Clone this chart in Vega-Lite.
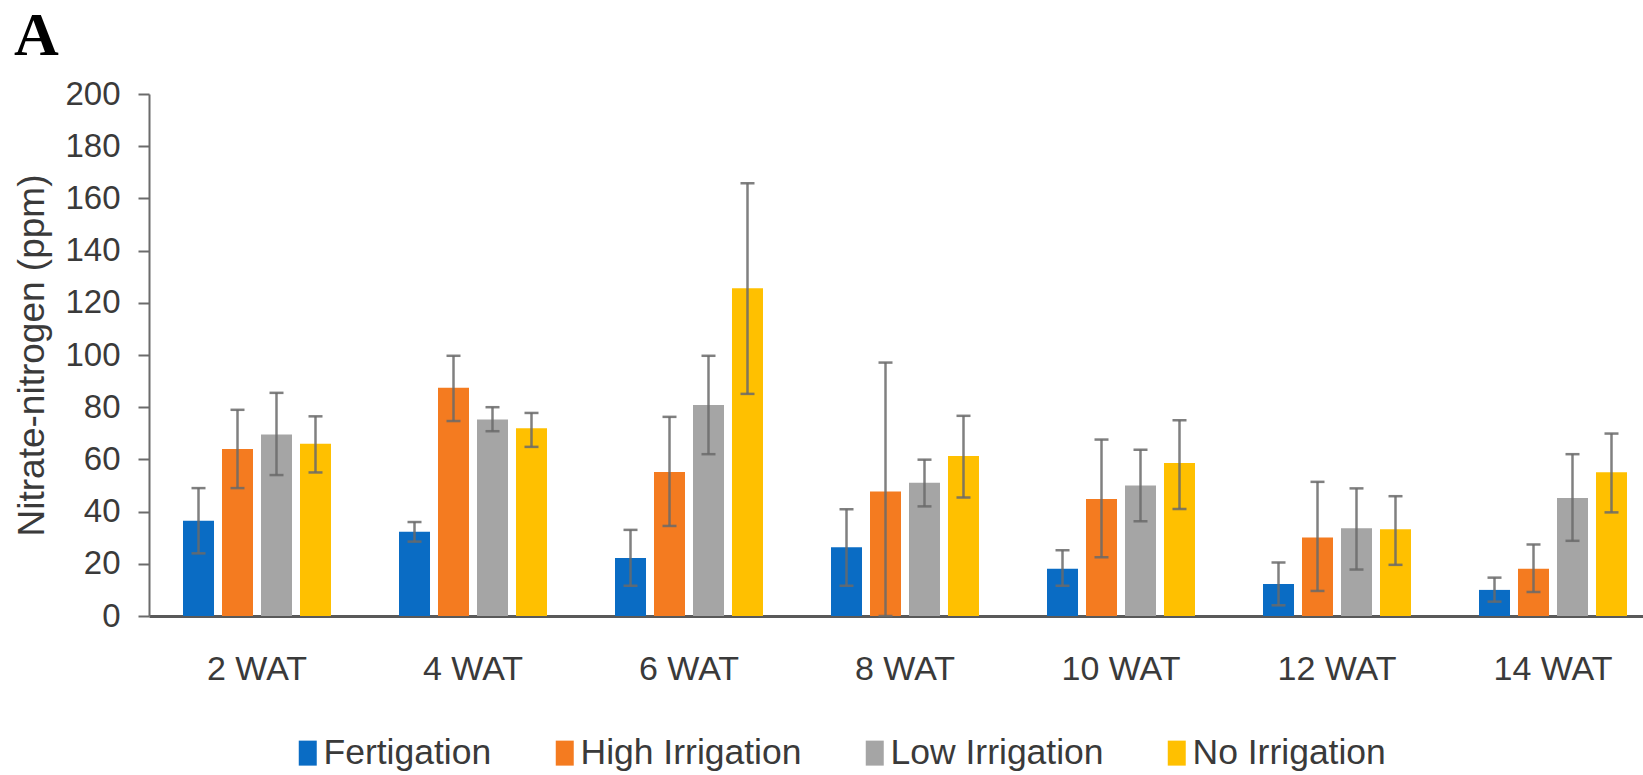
{
  "$schema": "https://vega.github.io/schema/vega-lite/v6.json",
  "autosize": "none",
  "padding": {"left": 149, "top": 94, "right": 0, "bottom": 159},
  "width": 1494,
  "height": 522,
  "background": "white",
  "title": {
    "text": "A",
    "anchor": "start",
    "orient": "top",
    "offset": 10,
    "font": "Liberation Serif",
    "fontSize": 62,
    "fontWeight": "bold",
    "color": "#000000"
  },
  "data": {
    "values": [
      {"week": "2 WAT", "treatment": "Fertigation", "value": 36.5, "lo": 24, "hi": 49},
      {"week": "2 WAT", "treatment": "High Irrigation", "value": 64, "lo": 49, "hi": 79},
      {"week": "2 WAT", "treatment": "Low Irrigation", "value": 69.5, "lo": 54, "hi": 85.5},
      {"week": "2 WAT", "treatment": "No Irrigation", "value": 66, "lo": 55, "hi": 76.5},
      {"week": "4 WAT", "treatment": "Fertigation", "value": 32.3, "lo": 28.5, "hi": 36},
      {"week": "4 WAT", "treatment": "High Irrigation", "value": 87.5, "lo": 74.7, "hi": 99.7},
      {"week": "4 WAT", "treatment": "Low Irrigation", "value": 75.3, "lo": 70.8, "hi": 80},
      {"week": "4 WAT", "treatment": "No Irrigation", "value": 71.9, "lo": 64.8, "hi": 77.8},
      {"week": "6 WAT", "treatment": "Fertigation", "value": 22.2, "lo": 11.6, "hi": 33},
      {"week": "6 WAT", "treatment": "High Irrigation", "value": 55.2, "lo": 34.5, "hi": 76.3},
      {"week": "6 WAT", "treatment": "Low Irrigation", "value": 80.8, "lo": 62, "hi": 99.7},
      {"week": "6 WAT", "treatment": "No Irrigation", "value": 125.6, "lo": 85.1, "hi": 165.8},
      {"week": "8 WAT", "treatment": "Fertigation", "value": 26.3, "lo": 11.6, "hi": 40.9},
      {"week": "8 WAT", "treatment": "High Irrigation", "value": 47.7, "lo": 0, "hi": 97.1},
      {"week": "8 WAT", "treatment": "Low Irrigation", "value": 51.1, "lo": 42, "hi": 59.9},
      {"week": "8 WAT", "treatment": "No Irrigation", "value": 61.3, "lo": 45.4, "hi": 76.7},
      {"week": "10 WAT", "treatment": "Fertigation", "value": 18.1, "lo": 11.6, "hi": 25.2},
      {"week": "10 WAT", "treatment": "High Irrigation", "value": 44.8, "lo": 22.5, "hi": 67.6},
      {"week": "10 WAT", "treatment": "Low Irrigation", "value": 50, "lo": 36.3, "hi": 63.7},
      {"week": "10 WAT", "treatment": "No Irrigation", "value": 58.6, "lo": 41, "hi": 75},
      {"week": "12 WAT", "treatment": "Fertigation", "value": 12.3, "lo": 4.1, "hi": 20.5},
      {"week": "12 WAT", "treatment": "High Irrigation", "value": 30.1, "lo": 9.6, "hi": 51.4},
      {"week": "12 WAT", "treatment": "Low Irrigation", "value": 33.6, "lo": 17.8, "hi": 48.9},
      {"week": "12 WAT", "treatment": "No Irrigation", "value": 33.2, "lo": 19.6, "hi": 45.9},
      {"week": "14 WAT", "treatment": "Fertigation", "value": 10, "lo": 5.5, "hi": 14.7},
      {"week": "14 WAT", "treatment": "High Irrigation", "value": 18.1, "lo": 9.2, "hi": 27.4},
      {"week": "14 WAT", "treatment": "Low Irrigation", "value": 45.2, "lo": 28.8, "hi": 62},
      {"week": "14 WAT", "treatment": "No Irrigation", "value": 55.1, "lo": 39.7, "hi": 69.9}
    ]
  },
  "encoding": {
    "x": {
      "field": "week",
      "type": "nominal",
      "sort": ["2 WAT", "4 WAT", "6 WAT", "8 WAT", "10 WAT", "12 WAT", "14 WAT"],
      "scale": {"range": [0, 1512], "paddingInner": 0, "paddingOuter": 0},
      "axis": {
        "title": null,
        "labelAngle": 0,
        "ticks": false,
        "tickSize": 0,
        "labelPadding": 36,
        "labelFontSize": 34,
        "labelFont": "Liberation Sans",
        "labelColor": "#3a3a3a",
        "domainColor": "#595959",
        "domainWidth": 3,
        "grid": false
      }
    },
    "xOffset": {
      "field": "treatment",
      "type": "nominal",
      "scale": {"paddingInner": 0.205, "paddingOuter": 0.872}
    }
  },
  "layer": [
    {
      "mark": {"type": "bar"},
      "encoding": {
        "y": {
          "field": "value",
          "type": "quantitative",
          "scale": {"domain": [0, 200], "nice": false},
          "axis": {
            "title": "Nitrate-nitrogen (ppm)",
            "values": [0, 20, 40, 60, 80, 100, 120, 140, 160, 180, 200],
            "grid": false,
            "domainColor": "#6b6b6b",
            "domainWidth": 2,
            "tickColor": "#6b6b6b",
            "tickWidth": 2,
            "tickSize": 11,
            "labelPadding": 18,
            "labelFontSize": 33,
            "labelFont": "Liberation Sans",
            "labelColor": "#3a3a3a",
            "titleFont": "Liberation Sans",
            "titleFontSize": 37,
            "titleFontWeight": "normal",
            "titleColor": "#3a3a3a",
            "titlePadding": 13
          }
        },
        "color": {
          "field": "treatment",
          "type": "nominal",
          "scale": {
            "domain": ["Fertigation", "High Irrigation", "Low Irrigation", "No Irrigation"],
            "range": ["#0A6CC4", "#F47B20", "#A5A5A5", "#FFC000"]
          },
          "legend": {
            "title": null,
            "orient": "none",
            "direction": "horizontal",
            "legendX": 141,
            "legendY": 641,
            "symbolType": "M-0.72,-1H0.72V1H-0.72Z",
            "symbolSize": 625,
            "symbolStrokeWidth": 0,
            "labelFont": "Liberation Sans",
            "labelFontSize": 35.5,
            "labelColor": "#3a3a3a",
            "labelOffset": -2,
            "columnPadding": 55,
            "labelLimit": 400
          }
        }
      }
    },
    {
      "mark": {"type": "rule", "color": "#6a6a6a", "strokeWidth": 2.5, "opacity": 0.85},
      "encoding": {
        "y": {"field": "lo", "type": "quantitative"},
        "y2": {"field": "hi"}
      }
    },
    {
      "mark": {"type": "tick", "color": "#6a6a6a", "thickness": 2.5, "size": 14, "orient": "horizontal", "opacity": 0.85},
      "encoding": {
        "y": {"field": "lo", "type": "quantitative"}
      }
    },
    {
      "mark": {"type": "tick", "color": "#6a6a6a", "thickness": 2.5, "size": 14, "orient": "horizontal", "opacity": 0.85},
      "encoding": {
        "y": {"field": "hi", "type": "quantitative"}
      }
    }
  ],
  "config": {
    "view": {"stroke": null}
  }
}
